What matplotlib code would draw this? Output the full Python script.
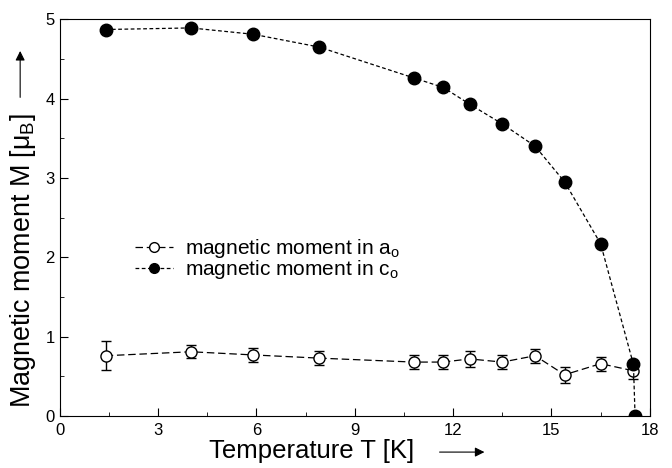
import numpy as np
import matplotlib
matplotlib.use("Agg")
import matplotlib.pyplot as plt
from matplotlib.ticker import MultipleLocator
from matplotlib.lines import Line2D

plt.rcParams['font.family'] = ['Liberation Sans', 'DejaVu Sans']
plt.rcParams['mathtext.fontset'] = 'custom'
plt.rcParams['mathtext.rm'] = 'Liberation Sans'
plt.rcParams['mathtext.it'] = 'Liberation Sans'

# moment along c_o (filled circles)
T_c = [1.4, 4.0, 5.9, 7.9, 10.8, 11.7, 12.5, 13.5, 14.5, 15.4, 16.5, 17.5, 17.55]
M_c = [4.87, 4.89, 4.81, 4.65, 4.26, 4.14, 3.93, 3.68, 3.40, 2.95, 2.17, 0.65, 0.0]

# moment along a_o (open circles) with error bars
T_a = [1.4, 4.0, 5.9, 7.9, 10.8, 11.7, 12.5, 13.5, 14.5, 15.4, 16.5, 17.5]
M_a = [0.76, 0.81, 0.77, 0.73, 0.68, 0.68, 0.72, 0.68, 0.76, 0.52, 0.66, 0.57]
err_a = [0.18, 0.08, 0.09, 0.09, 0.09, 0.09, 0.10, 0.09, 0.09, 0.10, 0.09, 0.10]

dash_a = (0, (6, 3))
dash_c = (0, (3, 2))

fig = plt.figure(figsize=(6.72, 4.68), dpi=100)
ax = fig.add_axes([0.089, 0.111, 0.878, 0.848])

ax.errorbar(T_a, M_a, yerr=err_a, fmt='o', color='black', mfc='white',
            mec='black', ms=8, mew=1.0, capsize=3.5, elinewidth=1.0,
            linestyle=dash_a, linewidth=0.9, zorder=3)
ax.plot(T_c, M_c, 'o', color='black', ms=9, linestyle=dash_c,
        linewidth=0.9, zorder=4)

ax.set_xlim(0, 18)
ax.set_ylim(0, 5)
ax.xaxis.set_major_locator(MultipleLocator(3))
ax.xaxis.set_minor_locator(MultipleLocator(1.5))
ax.yaxis.set_major_locator(MultipleLocator(1))
ax.yaxis.set_minor_locator(MultipleLocator(0.5))
ax.tick_params(which='both', direction='in', labelsize=12)
ax.tick_params(which='major', length=6)
ax.tick_params(which='minor', length=3)
ax.tick_params(axis='x', pad=5)

# axis titles placed by hand, each followed by a direction arrow
fig.text(0.463, 0.036, 'Temperature T [K]', fontsize=18.5,
         ha='center', va='center')
fig.text(0.034, 0.442, r'Magnetic moment M [$\mu_\mathrm{B}$]', fontsize=19.4,
         rotation=90, ha='center', va='center')
ax.annotate('', xy=(0.030, 0.897), xytext=(0.030, 0.786),
            xycoords='figure fraction',
            arrowprops=dict(arrowstyle='-|>', color='black', lw=0.8,
                            mutation_scale=14))
ax.annotate('', xy=(0.725, 0.034), xytext=(0.650, 0.034),
            xycoords='figure fraction',
            arrowprops=dict(arrowstyle='-|>', color='black', lw=0.8,
                            mutation_scale=14))

handles = [
    Line2D([], [], color='black', marker='o', mfc='white', ms=7, mew=1.0,
           linestyle=dash_a, linewidth=0.9),
    Line2D([], [], color='black', marker='o', ms=7, linestyle=dash_c,
           linewidth=0.9),
]
labels = [r'magnetic moment in a$_\mathrm{o}$',
          r'magnetic moment in c$_\mathrm{o}$']
ax.legend(handles, labels, loc='upper left', bbox_to_anchor=(0.103, 0.488),
          frameon=False, fontsize=15, handlelength=1.8, handletextpad=0.6,
          labelspacing=-0.1, borderpad=0.2)

fig.savefig('out.png', dpi=100)
